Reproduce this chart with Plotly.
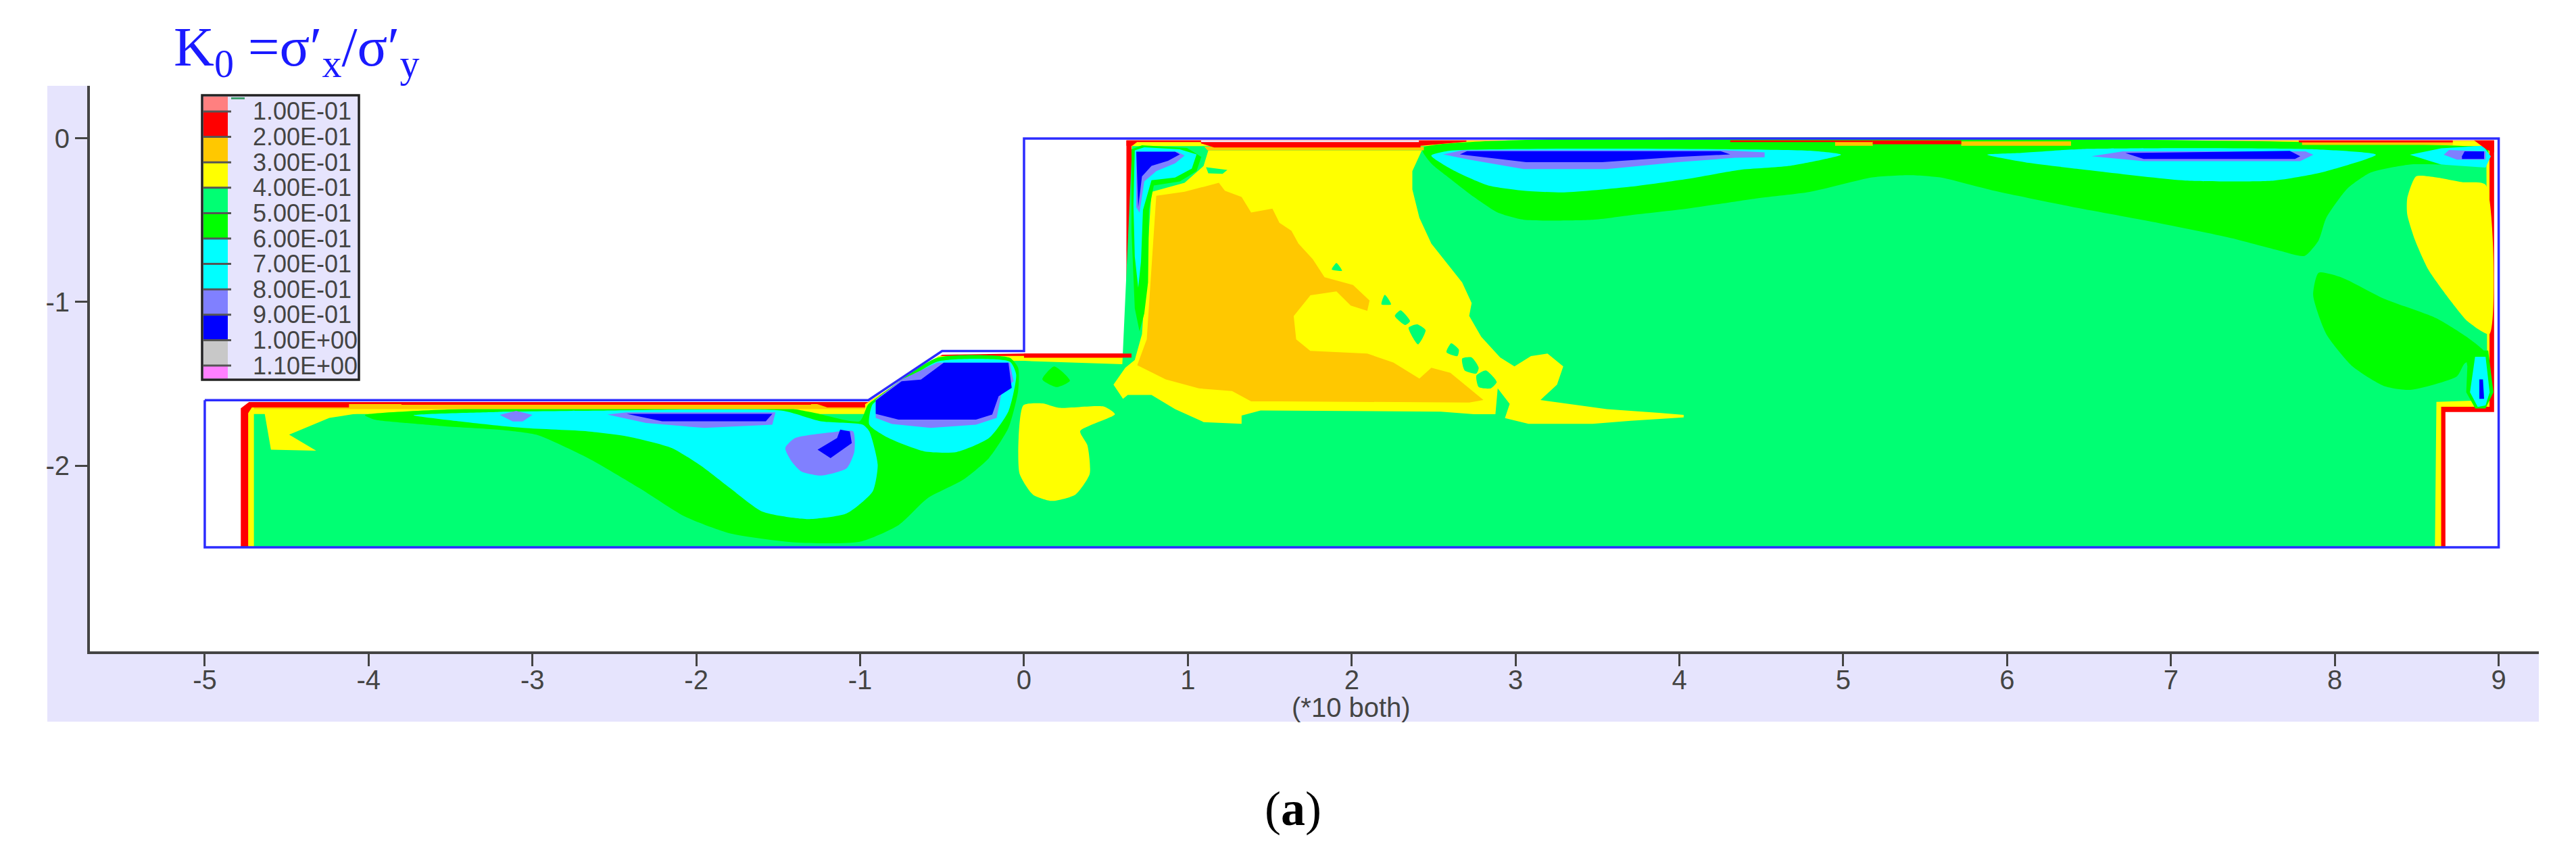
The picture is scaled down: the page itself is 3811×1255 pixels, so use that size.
import plotly.graph_objects as go

# Axis ticks
x_ticks = [-5, -4, -3, -2, -1, 0, 1, 2, 3, 4, 5, 6, 7, 8, 9]
y_ticks = [0, -1, -2]

# Legend
legend_labels = ["1.00E-01", "2.00E-01", "3.00E-01", "4.00E-01", "5.00E-01", "6.00E-01",
                 "7.00E-01", "8.00E-01", "9.00E-01", "1.00E+00", "1.10E+00"]
PINK, RED, ORANGE, YELLOW = "#ff8080", "#ff0000", "#ffc800", "#ffff00"
SPRING, GREEN, CYAN, PERI = "#00ff73", "#00ff00", "#00ffff", "#8080ff"
BLUE, GREY, MAGENTA = "#0000ff", "#c8c8c8", "#ff80ff"
legend_colors = [PINK, RED, ORANGE, YELLOW, SPRING, GREEN, CYAN, CYAN, PERI, BLUE, GREY, MAGENTA]

# Section outline
outline = [(-5, -1.6), (-0.95, -1.6), (-0.5, -1.3), (0, -1.3), (0, 0), (9, 0), (9, -2.5), (-5, -2.5), (-5, -1.6)]

# Contour bands, (x, y) in axis units
red_outer = [(-4.78, -2.5), (-4.78, -1.65), (-4.73, -1.612), (-0.95, -1.612), (-0.5, -1.322), (0, -1.315),
             (0.625, -1.315), (0.625, -0.012), (8.972, -0.012), (8.972, -1.672), (8.675, -1.672), (8.675, -2.5)]
yellow_band = [(-4.735, -2.5), (-4.735, -1.68), (-4.7, -1.625), (-0.97, -1.625), (-0.52, -1.33), (0, -1.33), (0, -1.34),
               (0.656, -1.34), (0.656, -0.014), (8.944, -0.014), (8.944, -1.64), (8.649, -1.64), (8.649, -2.5)]
spring_base = [(-4.7, -2.5), (-4.7, -1.685), (-0.97, -1.685), (-0.55, -1.36), (0, -1.36), (0.6, -1.38), (0.66, -0.047),
               (8.925, -0.047), (8.93, -1.6), (8.62, -1.61), (8.611, -2.5)]

green_top = [(2.43, -0.06), (2.486, -0.153), (2.602, -0.247), (2.746, -0.358), (2.891, -0.453), (3.05, -0.497),
             (3.47, -0.497), (3.702, -0.469), (4.049, -0.429), (4.476, -0.366), (4.795, -0.327), (5.177, -0.238),
             (5.4, -0.224), (5.591, -0.238), (5.91, -0.317), (6.388, -0.416), (6.865, -0.505), (7.343, -0.603),
             (7.662, -0.686), (7.815, -0.718), (7.901, -0.623), (7.948, -0.485), (8.076, -0.307), (8.219, -0.208),
             (8.458, -0.159), (8.92, -0.149), (8.936, -0.07), (8.85, -0.05)]
cyan_top_a = [(2.486, -0.105), (2.631, -0.2), (2.833, -0.287), (3.05, -0.319), (3.296, -0.33), (3.702, -0.295),
              (4.049, -0.247), (4.368, -0.192), (4.667, -0.168), (4.986, -0.099), (4.795, -0.075), (2.6, -0.075)]
peri_top_a = [(2.558, -0.097), (2.674, -0.073), (4.281, -0.073), (4.52, -0.085), (4.52, -0.115), (4.339, -0.118),
              (3.991, -0.145), (3.557, -0.187), (3.05, -0.187), (2.717, -0.129)]
blue_top_a = [(2.66, -0.097), (2.703, -0.078), (4.252, -0.078), (4.31, -0.097), (3.991, -0.113), (3.528, -0.145),
              (3.065, -0.145), (2.833, -0.118)]
cyan_top_b = [(5.878, -0.099), (6.133, -0.149), (6.451, -0.188), (7.088, -0.257), (7.63, -0.257), (7.917, -0.208),
              (8.251, -0.099), (7.853, -0.065), (6.451, -0.065), (6.069, -0.089)]
peri_top_b = [(6.515, -0.109), (6.706, -0.079), (7.821, -0.079), (7.869, -0.099), (7.789, -0.139), (6.833, -0.139)]
blue_top_b = [(6.722, -0.089), (7.725, -0.076), (7.789, -0.109), (7.757, -0.125), (6.833, -0.125)]
cyan_corner = [(8.458, -0.099), (8.649, -0.159), (8.92, -0.178), (8.952, -0.109), (8.904, -0.045), (8.649, -0.06)]
peri_corner = [(8.665, -0.099), (8.697, -0.07), (8.92, -0.079), (8.92, -0.129), (8.745, -0.129)]
blue_corner = [(8.776, -0.109), (8.792, -0.079), (8.911, -0.079), (8.911, -0.125), (8.776, -0.125)]

yellow_right = [(8.496, -0.232), (8.617, -0.238), (8.776, -0.267), (8.92, -0.283), (8.944, -1.196), (8.809, -1.117),
                (8.681, -0.959), (8.57, -0.801), (8.49, -0.623), (8.442, -0.465), (8.442, -0.366)]
green_right = [(7.901, -0.821), (8.044, -0.851), (8.299, -0.979), (8.617, -1.098), (8.809, -1.216), (8.92, -1.315),
               (8.793, -1.375), (8.745, -1.454), (8.458, -1.537), (8.299, -1.513), (8.108, -1.394), (7.948, -1.196),
               (7.868, -0.959)]
green_drop = [(8.793, -1.296), (8.936, -1.296), (8.968, -1.552), (8.92, -1.651), (8.857, -1.651), (8.802, -1.552),
              (8.809, -1.394)]
cyan_drop = [(8.856, -1.335), (8.92, -1.335), (8.945, -1.552), (8.92, -1.632), (8.872, -1.641), (8.825, -1.552)]
blue_drop = [(8.882, -1.473), (8.904, -1.473), (8.911, -1.592), (8.882, -1.592)]

yellow_main = [(1.125, -0.073), (2.428, -0.073), (2.37, -0.2), (2.37, -0.311), (2.413, -0.485), (2.486, -0.643),
               (2.674, -0.88), (2.732, -1.006), (2.717, -1.085), (2.79, -1.212), (2.906, -1.339), (2.993, -1.394),
               (3.094, -1.331), (3.195, -1.315), (3.291, -1.394), (3.253, -1.505), (3.152, -1.599), (3.557, -1.655),
               (3.876, -1.678), (4.026, -1.69), (4.026, -1.705), (3.702, -1.726), (3.47, -1.745), (3.079, -1.745),
               (2.935, -1.71), (2.964, -1.623), (2.891, -1.528), (2.877, -1.686), (2.746, -1.686), (2.544, -1.67),
               (1.444, -1.663), (1.328, -1.694), (1.328, -1.745), (1.096, -1.734), (0.922, -1.655), (0.778, -1.568),
               (0.633, -1.568), (0.604, -1.592), (0.546, -1.505), (0.618, -1.402), (0.676, -1.354), (0.72, -1.196),
               (0.778, -0.327), (0.98, -0.271), (1.096, -0.168)]
spring_pocket = [(1.111, -0.176), (1.241, -0.192), (1.212, -0.216), (1.125, -0.213)]
hole_a = [(1.878, -0.801), (1.907, -0.761), (1.941, -0.809)]
hole_b = [(2.182, -1.014), (2.202, -0.956), (2.24, -1.014)]
hole_c = [(2.263, -1.085), (2.298, -1.051), (2.356, -1.117), (2.327, -1.141)]
hole_d = [(2.347, -1.157), (2.399, -1.136), (2.451, -1.172), (2.405, -1.259)]
hole_e = [(2.578, -1.307), (2.607, -1.252), (2.654, -1.291), (2.645, -1.331)]
hole_f = [(2.674, -1.346), (2.732, -1.339), (2.775, -1.402), (2.761, -1.437), (2.689, -1.418)]
hole_g = [(2.761, -1.449), (2.819, -1.418), (2.885, -1.489), (2.848, -1.528), (2.775, -1.52)]
orange_main = [(0.807, -0.35), (0.98, -0.326), (1.189, -0.271), (1.226, -0.319), (1.328, -0.358), (1.386, -0.453),
               (1.516, -0.429), (1.559, -0.516), (1.632, -0.564), (1.675, -0.643), (1.762, -0.738), (1.834, -0.848),
               (2.008, -0.896), (2.109, -0.991), (2.095, -1.054), (1.994, -1.022), (1.907, -0.935), (1.748, -0.959),
               (1.646, -1.086), (1.661, -1.228), (1.747, -1.299), (2.095, -1.315), (2.254, -1.37), (2.413, -1.468),
               (2.486, -1.402), (2.602, -1.433), (2.804, -1.599), (2.717, -1.615), (1.559, -1.607), (1.386, -1.607),
               (1.27, -1.544), (1.067, -1.528), (0.865, -1.473), (0.691, -1.386), (0.749, -1.228)]
green_wall = [(0.656, -0.066), (0.72, -0.042), (0.995, -0.058), (1.082, -0.113), (1.053, -0.2), (0.951, -0.263),
              (0.792, -0.287), (0.763, -0.437), (0.757, -0.88), (0.734, -1.07), (0.705, -1.18), (0.676, -1.038),
              (0.656, -0.564)]
cyan_wall = [(0.676, -0.073), (0.734, -0.054), (0.951, -0.066), (1.053, -0.097), (1.024, -0.184), (0.922, -0.239),
             (0.778, -0.255), (0.726, -0.437), (0.714, -0.753), (0.697, -0.912), (0.676, -0.722), (0.668, -0.406)]
peri_wall = [(0.685, -0.081), (0.937, -0.081), (0.98, -0.105), (0.922, -0.152), (0.807, -0.2), (0.734, -0.263),
             (0.705, -0.453), (0.685, -0.421)]
blue_wall = [(0.685, -0.081), (0.922, -0.081), (0.951, -0.097), (0.879, -0.137), (0.778, -0.168), (0.72, -0.232),
             (0.697, -0.421)]

green_low = [(-4.023, -1.692), (-3.254, -1.647), (-2.267, -1.637), (-1.477, -1.643), (-1.28, -1.678), (-1.003, -1.729),
             (-0.952, -1.627), (-0.885, -1.576), (-0.53, -1.341), (-0.087, -1.341), (-0.036, -1.402), (-0.036, -1.545),
             (-0.095, -1.77), (-0.214, -1.954), (-0.372, -2.087), (-0.589, -2.2), (-0.766, -2.364), (-1.003, -2.466),
             (-1.398, -2.47), (-1.793, -2.415), (-2.069, -2.312), (-2.346, -2.138), (-2.661, -1.954), (-2.977, -1.811),
             (-3.214, -1.78), (-3.53, -1.76), (-3.767, -1.74), (-3.964, -1.719)]
cyan_low = [(-3.727, -1.692), (-3.214, -1.672), (-2.583, -1.664), (-1.477, -1.664), (-1.24, -1.729), (-0.984, -1.75),
            (-0.944, -1.791), (-0.893, -1.995), (-0.924, -2.159), (-1.082, -2.292), (-1.319, -2.327), (-1.596, -2.282),
            (-1.793, -2.138), (-1.951, -2.016), (-2.148, -1.893), (-2.425, -1.821), (-2.661, -1.791), (-3.056, -1.77),
            (-3.451, -1.729)]
cyan_block = [(-0.944, -1.75), (-0.826, -1.832), (-0.609, -1.913), (-0.411, -1.917), (-0.214, -1.832), (-0.095, -1.668),
              (-0.048, -1.443), (-0.087, -1.365), (-0.53, -1.365), (-0.806, -1.545), (-0.925, -1.627)]
peri_block = [(-0.905, -1.596), (-0.747, -1.474), (-0.53, -1.371), (-0.087, -1.371), (-0.064, -1.484), (-0.135, -1.545),
              (-0.167, -1.709), (-0.293, -1.75), (-0.569, -1.77), (-0.806, -1.746), (-0.905, -1.709)]
blue_block = [(-0.905, -1.602), (-0.747, -1.484), (-0.629, -1.474), (-0.49, -1.371), (-0.095, -1.371), (-0.075, -1.525),
              (-0.155, -1.576), (-0.194, -1.688), (-0.293, -1.719), (-0.766, -1.719), (-0.905, -1.684)]
peri_low = [(-2.543, -1.688), (-2.425, -1.674), (-1.517, -1.674), (-1.536, -1.75), (-1.951, -1.77), (-2.306, -1.74)]
blue_low = [(-2.425, -1.684), (-1.536, -1.684), (-1.576, -1.729), (-2.208, -1.729)]
peri_spot = [(-3.2, -1.69), (-3.1, -1.665), (-3.0, -1.69), (-3.06, -1.73), (-3.12, -1.73)]
peri_blob = [(-1.457, -1.893), (-1.398, -1.832), (-1.161, -1.795), (-1.043, -1.791), (-1.035, -1.913), (-1.082, -2.016),
             (-1.24, -2.061), (-1.359, -2.036), (-1.418, -1.975)]
blue_blob = [(-1.26, -1.903), (-1.141, -1.832), (-1.122, -1.78), (-1.063, -1.791), (-1.051, -1.862), (-1.181, -1.954)]
green_spot = [(0.184, -1.394), (0.112, -1.473), (0.199, -1.52), (0.28, -1.481)]
yellow_low = [(-0.004, -1.631), (0.112, -1.62), (0.213, -1.647), (0.488, -1.639), (0.555, -1.686), (0.343, -1.789),
              (0.387, -1.876), (0.401, -2.05), (0.314, -2.177), (0.17, -2.216), (0.054, -2.177), (-0.027, -2.05),
              (-0.033, -1.829)]
yellow_left = [(-4.635, -1.678), (-4.596, -1.903), (-4.32, -1.909), (-4.485, -1.811), (-4.24, -1.709), (-4.043, -1.678)]

# Thin strips along the free surfaces
orange_low = [(-4.7, -1.625), (-0.97, -1.625), (-0.97, -1.655), (-4.7, -1.655)]
red_low_a = [(-4.72, -1.612), (-4.12, -1.612), (-4.12, -1.645), (-4.72, -1.645)]
red_low_b = [(-3.8, -1.612), (-1.3, -1.612), (-1.3, -1.628), (-3.8, -1.628)]
red_low_c = [(-1.3, -1.612), (-0.97, -1.612), (-0.97, -1.645), (-1.2, -1.645)]
red_step = [(0, -1.315), (0.656, -1.315), (0.656, -1.34), (0, -1.34)]
orange_top_main = [(1.1, -0.05), (2.44, -0.05), (2.44, -0.073), (1.12, -0.073)]
red_top_main = [(1.08, -0.012), (2.7, -0.012), (2.7, -0.02), (2.42, -0.045), (2.42, -0.055), (1.16, -0.055), (1.08, -0.03)]
pale_top = [(1.08, -0.012), (2.41, -0.012), (2.41, -0.022), (1.08, -0.022)]
red_top_wall = [(0.625, -0.012), (1.08, -0.012), (1.08, -0.022), (0.69, -0.022), (0.66, -0.045), (0.625, -0.045)]
orange_top_a = [(4.95, -0.018), (5.18, -0.018), (5.18, -0.045), (4.95, -0.045)]
orange_top_b = [(5.72, -0.018), (6.39, -0.018), (6.39, -0.045), (5.72, -0.045)]
orange_top_c = [(7.8, -0.018), (8.72, -0.018), (8.72, -0.04), (7.8, -0.04)]
red_top_a = [(4.31, -0.012), (5.18, -0.012), (5.18, -0.022), (4.31, -0.022)]
red_top_b = [(5.18, -0.012), (5.72, -0.012), (5.72, -0.035), (5.18, -0.035)]
red_top_c = [(7.78, -0.012), (8.72, -0.012), (8.72, -0.024), (7.78, -0.024)]
red_corner = [(8.85, -0.012), (8.972, -0.012), (8.972, -0.085), (8.93, -0.07)]

# Painted back to front
regions = [
    (red_outer, RED), (yellow_band, YELLOW), (spring_base, SPRING),
    (green_top, GREEN), (cyan_top_a, CYAN), (peri_top_a, PERI), (blue_top_a, BLUE),
    (cyan_top_b, CYAN), (peri_top_b, PERI), (blue_top_b, BLUE),
    (cyan_corner, CYAN), (peri_corner, PERI), (blue_corner, BLUE),
    (yellow_right, YELLOW), (green_right, GREEN), (green_drop, GREEN), (cyan_drop, CYAN), (blue_drop, BLUE),
    (yellow_main, YELLOW), (spring_pocket, SPRING),
    (hole_a, SPRING), (hole_b, SPRING), (hole_c, SPRING), (hole_d, SPRING), (hole_e, SPRING), (hole_f, SPRING), (hole_g, SPRING),
    (orange_main, ORANGE), (green_wall, GREEN), (cyan_wall, CYAN), (peri_wall, PERI), (blue_wall, BLUE),
    (green_low, GREEN), (cyan_low, CYAN), (cyan_block, CYAN), (peri_block, PERI), (blue_block, BLUE),
    (peri_low, PERI), (blue_low, BLUE), (peri_spot, PERI), (peri_blob, PERI), (blue_blob, BLUE),
    (green_spot, GREEN), (yellow_low, YELLOW), (yellow_left, YELLOW),
    (orange_low, ORANGE), (red_low_a, RED), (red_low_b, RED), (red_low_c, RED), (red_step, RED),
    (orange_top_main, ORANGE), (red_top_main, RED), (pale_top, "#f0f0ff"), (red_top_wall, RED),
    (orange_top_a, ORANGE), (orange_top_b, ORANGE), (orange_top_c, ORANGE),
    (red_top_a, RED), (red_top_b, RED), (red_top_c, RED), (red_corner, RED),
]

# Rounded blobs get a spline outline, the rest stay straight
rounded = [yellow_low, green_right, green_low, cyan_low, green_top, cyan_top_a, cyan_top_b, peri_blob, cyan_block,
           yellow_right, hole_a, hole_b, hole_c, hole_d, hole_e, hole_f, hole_g, green_spot]

W, H = 3811, 1255
# Plot area in page pixels
LEFT, RIGHT, TOP, BOTTOM = 133, 3756, 127, 964
LAVENDER = "#e6e4fd"
TEXT = "#444444"


# paper coordinates run over the plot area, not the whole page
def px(x):
    return (x - LEFT) / (RIGHT - LEFT)


def py(y):
    return (BOTTOM - y) / (BOTTOM - TOP)


def page_rect(x0, y0, x1, y1, color, layer="below", line=None):
    return dict(type="rect", xref="paper", yref="paper", layer=layer, x0=px(x0), x1=px(x1), y0=py(y0), y1=py(y1),
                fillcolor=color, line=line or dict(width=0))


fig = go.Figure()

for points, color in regions:
    is_round = any(points is r for r in rounded)
    fig.add_trace(go.Scatter(
        x=[p[0] for p in points] + [points[0][0]],
        y=[p[1] for p in points] + [points[0][1]],
        mode="lines",
        fill="toself",
        fillcolor=color,
        line=dict(width=0, shape="spline" if is_round else "linear", smoothing=0.6),
        hoverinfo="skip",
        showlegend=False,
    ))

fig.add_trace(go.Scatter(
    x=[p[0] for p in outline],
    y=[p[1] for p in outline],
    mode="lines",
    line=dict(color="#2c2cff", width=3.5),
    hoverinfo="skip",
    showlegend=False,
))

# Lavender frame behind the white plot area
shapes = [
    page_rect(70, 127, RIGHT, 1068, LAVENDER),
    page_rect(LEFT, TOP, RIGHT, BOTTOM, "white"),
]

# Legend box
shapes.append(page_rect(299, 141, 531, 562, LAVENDER, layer="above", line=dict(color="#222222", width=3.5)))
row_tops = [143] + [165 + 37.6 * i for i in range(11)] + [560]
for i, color in enumerate(legend_colors):
    shapes.append(page_rect(301, row_tops[i], 337, row_tops[i + 1], color, layer="above"))
shapes.append(page_rect(342, 144, 362, 147, "#3f9f6f", layer="above"))

annotations = []
for i, label in enumerate(legend_labels):
    y_row = row_tops[i + 1]
    shapes.append(page_rect(300, y_row - 1.5, 342, y_row + 1.5, "#555555", layer="above"))
    annotations.append(dict(xref="paper", yref="paper", x=px(372), y=py(y_row), text=label, showarrow=False,
                            xanchor="left", yanchor="middle", font=dict(family="Liberation Sans", size=36, color=TEXT)))

annotations += [
    dict(xref="paper", yref="paper", x=px(255), y=py(75),
         text="K<sub>0</sub> =σ′<sub>x</sub>/σ′<sub>y</sub>", showarrow=False,
         xanchor="left", yanchor="middle", font=dict(family="Liberation Serif", size=83, color="#1a1aff")),
    dict(xref="paper", yref="paper", x=px(1999), y=py(1047), text="(*10 both)", showarrow=False,
         xanchor="center", yanchor="middle", font=dict(family="Liberation Sans", size=40, color=TEXT)),
    dict(xref="paper", yref="paper", x=px(1913), y=py(1197), text="(<b>a</b>)", showarrow=False,
         xanchor="center", yanchor="middle", font=dict(family="Liberation Serif", size=72, color="black")),
]

axis_font = dict(family="Liberation Sans", size=40, color=TEXT)

fig.update_layout(
    width=W,
    height=H,
    autosize=False,
    margin=dict(l=LEFT, r=W - RIGHT, t=TOP, b=H - BOTTOM, pad=0),
    paper_bgcolor="white",
    plot_bgcolor="rgba(0,0,0,0)",
    showlegend=False,
    shapes=shapes,
    annotations=annotations,
    xaxis=dict(
        range=[-5.701, 9.245],
        tickmode="array",
        tickvals=x_ticks,
        ticktext=[str(v) for v in x_ticks],
        ticks="outside",
        ticklen=18,
        tickwidth=3,
        tickcolor=TEXT,
        tickfont=axis_font,
        ticklabelstandoff=-14,
        showline=True,
        linecolor=TEXT,
        linewidth=4,
        showgrid=False,
        zeroline=False,
    ),
    yaxis=dict(
        range=[-3.136, 0.322],
        tickmode="array",
        tickvals=y_ticks,
        ticktext=[str(v) for v in y_ticks],
        ticks="outside",
        ticklen=18,
        tickwidth=3,
        tickcolor=TEXT,
        tickfont=axis_font,
        showline=True,
        linecolor=TEXT,
        linewidth=4,
        showgrid=False,
        zeroline=False,
    ),
)

fig.write_html("out.html", config={"displayModeBar": False}, post_script="document.body.style.margin='0';")
